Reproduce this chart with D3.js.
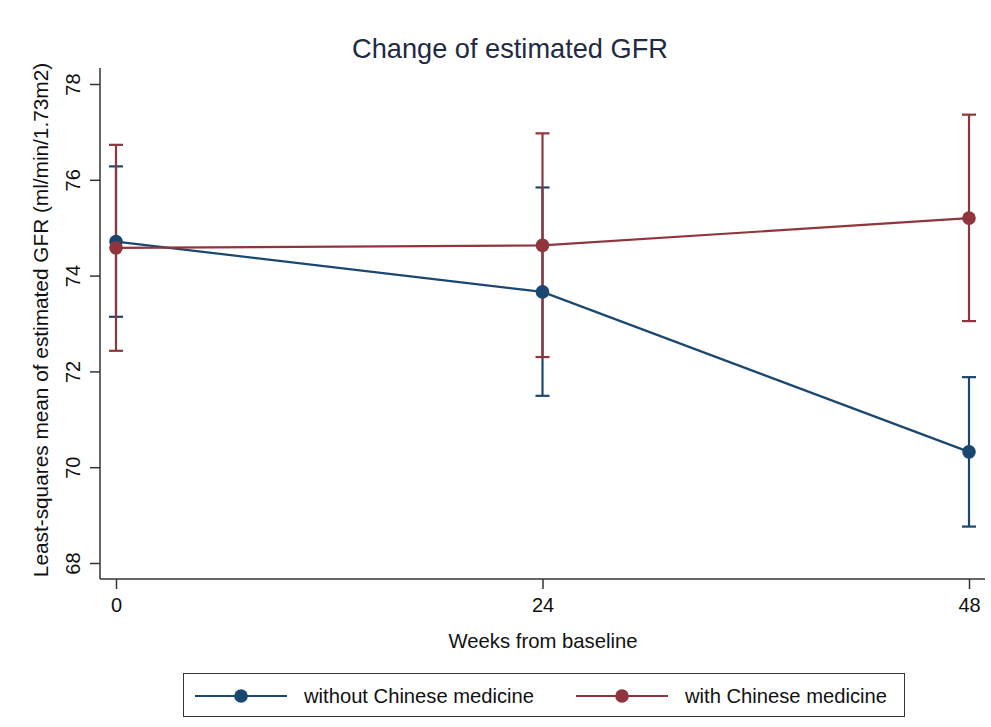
<!DOCTYPE html>
<html>
<head>
<meta charset="utf-8">
<script src="https://cdn.jsdelivr.net/npm/d3@7"></script>
<style>
  html, body { margin: 0; padding: 0; background: #fff; }
  svg { display: block; font-family: "Liberation Sans", Arial, sans-serif; }
</style>
</head>
<body>
<svg id="chart" width="991" height="727"></svg>
<script>
// Visit weeks and least-squares means with their CI bounds
const weeks = [0, 24, 48];
const xTicks = [0, 24, 48];
const yTicks = [68, 70, 72, 74, 76, 78];

const seriesNames = ["without Chinese medicine", "with Chinese medicine"];
const seriesColors = ["#1a476f", "#90353b"];

const withoutMean = [74.71, 73.66, 70.32];
const withoutLower = [73.14, 71.49, 68.76];
const withoutUpper = [76.28, 75.84, 71.88];

const withMean = [74.58, 74.63, 75.20];
const withLower = [72.43, 72.30, 73.05];
const withUpper = [76.73, 76.97, 77.36];

const series = [
  { name: seriesNames[0], color: seriesColors[0], mean: withoutMean, lo: withoutLower, hi: withoutUpper },
  { name: seriesNames[1], color: seriesColors[1], mean: withMean, lo: withLower, hi: withUpper }
];

const svg = d3.select("#chart");

const x = d3.scaleLinear().domain([0, 48]).range([116, 969]);
const y = d3.scaleLinear().domain([68, 78]).range([563, 84]);

const plotLeft = 100, plotRight = 985, plotTop = 68, plotBottom = 579;

// Title
svg.append("text")
  .attr("x", 510).attr("y", 58)
  .attr("text-anchor", "middle")
  .attr("font-size", 27.2)
  .attr("fill", "#1f2a44")
  .text("Change of estimated GFR");

// Y axis
const yAxis = d3.axisLeft(y).tickValues(yTicks).tickSize(10).tickFormat(d3.format("d"));
const gy = svg.append("g").attr("transform", `translate(${plotLeft},0)`).call(yAxis);
gy.select(".domain").remove();
gy.selectAll(".tick line").attr("stroke", "#333").attr("stroke-width", 1.5);
gy.selectAll(".tick text")
  .attr("font-size", 20)
  .attr("fill", "#111")
  .attr("x", null)
  .attr("text-anchor", "middle")
  .attr("transform", "translate(-27,0) rotate(-90)")
  .attr("dy", "0.35em");
svg.append("line")
  .attr("x1", plotLeft).attr("x2", plotLeft)
  .attr("y1", plotTop).attr("y2", plotBottom)
  .attr("stroke", "#333").attr("stroke-width", 1.5);

// X axis
const xAxis = d3.axisBottom(x).tickValues(xTicks).tickSize(10).tickFormat(d3.format("d"));
const gx = svg.append("g").attr("transform", `translate(0,${plotBottom})`).call(xAxis);
gx.select(".domain").remove();
gx.selectAll(".tick line").attr("stroke", "#333").attr("stroke-width", 1.5);
gx.selectAll(".tick text")
  .attr("font-size", 20)
  .attr("fill", "#111")
  .attr("y", 19);
svg.append("line")
  .attr("x1", plotLeft).attr("x2", plotRight)
  .attr("y1", plotBottom).attr("y2", plotBottom)
  .attr("stroke", "#333").attr("stroke-width", 1.5);

// Axis titles
svg.append("text")
  .attr("x", 543).attr("y", 648)
  .attr("text-anchor", "middle")
  .attr("font-size", 20.3)
  .attr("fill", "#111")
  .text("Weeks from baseline");

svg.append("text")
  .attr("transform", "translate(48,320) rotate(-90)")
  .attr("text-anchor", "middle")
  .attr("font-size", 20.8)
  .attr("fill", "#111")
  .text("Least-squares mean of estimated GFR (ml/min/1.73m2)");

// Confidence intervals
const capHalf = 7;
series.forEach(s => {
  const g = svg.append("g").attr("stroke", s.color).attr("stroke-width", 2.2).attr("fill", "none");
  weeks.forEach((w, i) => {
    g.append("line").attr("x1", x(w)).attr("x2", x(w)).attr("y1", y(s.lo[i])).attr("y2", y(s.hi[i]));
    g.append("line").attr("x1", x(w) - capHalf).attr("x2", x(w) + capHalf).attr("y1", y(s.hi[i])).attr("y2", y(s.hi[i]));
    g.append("line").attr("x1", x(w) - capHalf).attr("x2", x(w) + capHalf).attr("y1", y(s.lo[i])).attr("y2", y(s.lo[i]));
  });
});

// Connected means
const line = d3.line().x((d, i) => x(weeks[i])).y(d => y(d));
series.forEach(s => {
  svg.append("path")
    .datum(s.mean)
    .attr("d", line)
    .attr("fill", "none")
    .attr("stroke", s.color)
    .attr("stroke-width", 2.2);
  svg.selectAll(null)
    .data(s.mean)
    .enter().append("circle")
    .attr("cx", (d, i) => x(weeks[i]))
    .attr("cy", d => y(d))
    .attr("r", 6.8)
    .attr("fill", s.color);
});

// Legend
const legend = svg.append("g");
legend.append("rect")
  .attr("x", 183.5).attr("y", 673.5)
  .attr("width", 721).attr("height", 43)
  .attr("fill", "#fff")
  .attr("stroke", "#333").attr("stroke-width", 1);

const legendItems = [
  { x0: 195, text: seriesNames[0], color: seriesColors[0] },
  { x0: 576, text: seriesNames[1], color: seriesColors[1] }
];
legendItems.forEach(it => {
  const ly = 696;
  legend.append("line")
    .attr("x1", it.x0).attr("x2", it.x0 + 92)
    .attr("y1", ly).attr("y2", ly)
    .attr("stroke", it.color).attr("stroke-width", 2.2);
  legend.append("circle")
    .attr("cx", it.x0 + 46).attr("cy", ly).attr("r", 6.8)
    .attr("fill", it.color);
  legend.append("text")
    .attr("x", it.x0 + 109).attr("y", ly)
    .attr("dy", "0.35em")
    .attr("font-size", 20.2)
    .attr("fill", "#111")
    .text(it.text);
});
</script>
</body>
</html>
